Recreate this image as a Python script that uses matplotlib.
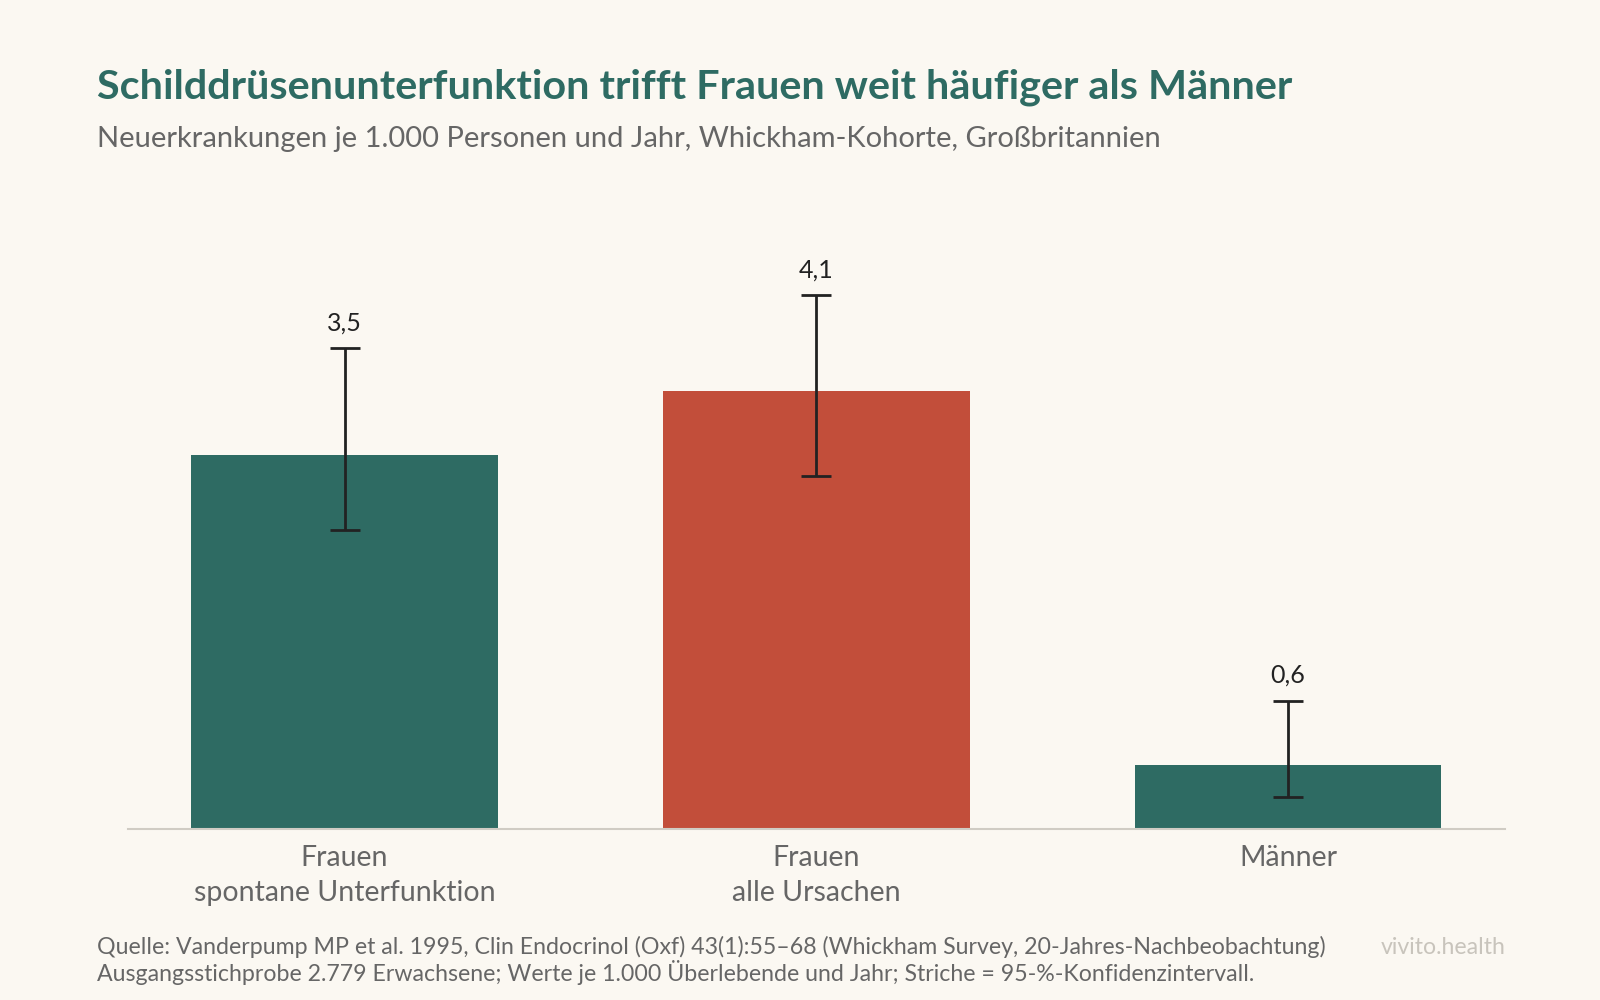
import matplotlib
matplotlib.use("Agg")
import matplotlib.pyplot as plt

categories = ["Frauen\nspontane Unterfunktion", "Frauen\nalle Ursachen", "Männer"]
values = [3.5, 4.1, 0.6]
ci_low = [2.8, 3.3, 0.3]
ci_high = [4.5, 5.0, 1.2]
labels = ["3,5", "4,1", "0,6"]
colors = ["#2e6b63", "#c24e3a", "#2e6b63"]

plt.rcParams['font.family'] = ['Lato', 'DejaVu Sans']
bg = "#fbf8f2"
fig = plt.figure(figsize=(16, 10), dpi=100, facecolor=bg)
ax = fig.add_axes([0.0797, 0.1714, 0.861, 0.587], facecolor=bg)
x = list(range(len(values)))
ax.bar(x, values, width=0.65, color=colors, zorder=2)
yerr = [[v - l for v, l in zip(values, ci_low)], [h - v for v, h in zip(values, ci_high)]]
ax.errorbar(x, values, yerr=yerr, fmt='none', ecolor="#222222", elinewidth=2, capsize=11, capthick=2, zorder=3)
for xi, h, t in zip(x, ci_high, labels):
    ax.text(xi, h + 0.13, t, ha='center', va='bottom', fontsize=18, color="#222222")
ax.set_xlim(-0.46, 2.46)
ax.set_ylim(0, 5.5)
ax.set_yticks([])
ax.set_xticks(x)
ax.set_xticklabels(categories, fontsize=20.5, color="#666666", linespacing=1.4)
ax.tick_params(axis='x', length=0, pad=12)
for s in ['top', 'right', 'left']:
    ax.spines[s].set_visible(False)
ax.spines['bottom'].set_color("#d0ccc4")
ax.spines['bottom'].set_linewidth(1.5)

fig.text(0.0606, 0.913, "Schilddrüsenunterfunktion trifft Frauen weit häufiger als Männer",
         fontsize=29.8, fontweight='bold', color="#2e6b63", va='center')
fig.text(0.0606, 0.861, "Neuerkrankungen je 1.000 Personen und Jahr, Whickham-Kohorte, Großbritannien",
         fontsize=21, color="#666666", va='center')
fig.text(0.0606, 0.053, "Quelle: Vanderpump MP et al. 1995, Clin Endocrinol (Oxf) 43(1):55–68 (Whickham Survey, 20-Jahres-Nachbeobachtung)",
         fontsize=16.7, color="#666666", va='center')
fig.text(0.0606, 0.0276, "Ausgangsstichprobe 2.779 Erwachsene; Werte je 1.000 Überlebende und Jahr; Striche = 95-%-Konfidenzintervall.",
         fontsize=16.7, color="#666666", va='center')
fig.text(0.9407, 0.053, "vivito.health", fontsize=16.7, color="#c8c4bc", va='center', ha='right')
fig.savefig("out.png", facecolor=bg)
